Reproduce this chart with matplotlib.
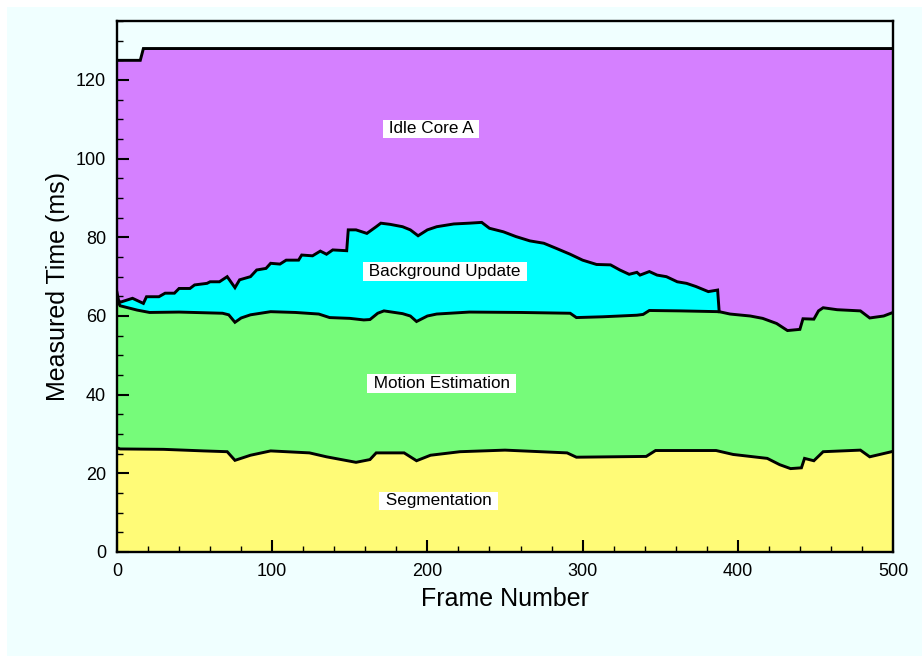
import matplotlib
matplotlib.use("Agg")
import matplotlib.pyplot as plt
from matplotlib.patches import Rectangle
from matplotlib.ticker import MultipleLocator

plt.rcParams['font.family'] = ['Liberation Sans', 'DejaVu Sans']

# ---- data: cumulative top of each stacked layer (ms) vs frame number ----
layer_names = ["Segmentation", "Motion Estimation", "Background Update", "Idle Core A"]
layer_colors = ["#fffb77", "#76fb7a", "#00ffff", "#d580ff"]

total_frames = [0, 15, 17, 500]
total_top = [125, 125, 128, 128]

bg_frames = [0, 1, 2, 10, 17, 19, 27, 31, 37, 40, 47, 50, 58, 60, 66, 71, 76, 79, 86, 90,
             96, 99, 105, 109, 117, 119, 126, 131, 135, 139, 148, 149, 154, 161, 167, 170,
             176, 184, 189, 194, 200, 206, 217, 227, 235, 240, 249, 257, 266, 275, 283,
             292, 300, 309, 318, 324, 330, 335, 337, 343, 348, 354, 361, 367, 373, 381,
             387, 388]
bg_top = [66.0, 64.0, 63.5, 64.5, 63.2, 64.9, 64.9, 65.8, 65.8, 67.0, 67.0, 67.9, 68.3, 68.7,
          68.7, 70.0, 67.2, 69.2, 70.0, 71.7, 72.1, 73.4, 73.2, 74.2, 74.2, 75.5, 75.3, 76.5,
          75.7, 76.8, 76.6, 81.9, 81.9, 81.0, 82.7, 83.6, 83.3, 82.7, 81.9, 80.4, 81.9, 82.7,
          83.4, 83.6, 83.8, 82.3, 81.4, 80.2, 79.1, 78.5, 77.2, 75.7, 74.2, 73.1, 73.0, 71.7,
          70.6, 71.1, 70.4, 71.3, 70.4, 70.0, 68.7, 68.3, 67.5, 66.2, 66.6, 61.1]

motion_frames = [0, 2, 8, 13, 21, 40, 68, 72, 76, 80, 86, 99, 115, 130, 137, 150, 159, 163,
                 168, 172, 184, 189, 193, 200, 206, 227, 260, 292, 296, 313, 335, 339, 343,
                 363, 388, 395, 408, 416, 425, 432, 440, 442, 449, 452, 455, 464, 479, 485,
                 494, 500]
motion_top = [64.0, 62.6, 62.0, 61.5, 60.9, 61.0, 60.7, 60.3, 58.4, 59.5, 60.3, 61.1, 60.9,
              60.5, 59.6, 59.4, 59.0, 59.1, 60.7, 61.3, 60.6, 60.0, 58.6, 60.0, 60.5, 61.0,
              60.9, 60.7, 59.6, 59.8, 60.2, 60.4, 61.4, 61.3, 61.1, 60.5, 60.0, 59.4, 58.1,
              56.3, 56.6, 59.3, 59.2, 61.3, 62.1, 61.6, 61.3, 59.5, 60.0, 60.9]

seg_frames = [0, 2, 30, 56, 71, 76, 86, 99, 124, 135, 154, 163, 167, 185, 193, 202, 221, 250,
              290, 296, 341, 347, 386, 397, 419, 427, 434, 441, 443, 449, 455, 479, 485, 498,
              500]
seg_top = [26.5, 26.2, 26.1, 25.7, 25.5, 23.3, 24.6, 25.7, 25.2, 24.2, 22.8, 23.5, 25.2, 25.2,
           23.2, 24.6, 25.5, 25.9, 25.2, 24.1, 24.3, 25.8, 25.8, 24.8, 23.8, 22.2, 21.2, 21.4,
           23.8, 23.2, 25.5, 25.9, 24.2, 25.4, 25.6]

label_frames = [207.2, 209.1, 211.3, 202.3]
label_values = [13.0, 42.8, 71.3, 107.6]

x_ticks = [0, 100, 200, 300, 400, 500]
y_ticks = [0, 20, 40, 60, 80, 100, 120]

# ---- figure ----
fig = plt.figure(figsize=(9.22, 6.56), dpi=100, facecolor="white")
fig.patches.append(Rectangle((7 / 922, 0), 1, (656 - 7) / 656, transform=fig.transFigure,
                             facecolor="#f0ffff", edgecolor="none", zorder=-10))
ax = fig.add_axes([117 / 922, (656 - 552) / 656, (893 - 117) / 922, (552 - 21) / 656])
ax.set_facecolor("#f0ffff")

series = [(seg_frames, seg_top), (motion_frames, motion_top),
          (bg_frames, bg_top), (total_frames, total_top)]

# painter's order: draw the top layer first, lower layers over it
for (fx, fy), col in reversed(list(zip(series, layer_colors))):
    ax.fill_between(fx, 0, fy, facecolor=col, edgecolor="none", zorder=1)
for fx, fy in series:
    ax.plot(fx, fy, color="black", lw=2.1, zorder=3, solid_joinstyle="miter")

for name, fx, fy in zip(layer_names, label_frames, label_values):
    ax.text(fx, fy, " " + name + " ", ha="center", va="center", fontsize=12.3, zorder=5,
            bbox=dict(boxstyle="square,pad=0.1", facecolor="white", edgecolor="none"))

ax.set_xlim(0, 500)
ax.set_ylim(0, 135)
ax.set_xticks(x_ticks)
ax.set_yticks(y_ticks)
ax.xaxis.set_minor_locator(MultipleLocator(20))
ax.yaxis.set_minor_locator(MultipleLocator(5))
ax.tick_params(which="major", direction="in", length=8.6, width=1.5, labelsize=13, pad=8,
               top=False, right=False)
ax.tick_params(which="minor", direction="in", length=4.3, width=1.0, top=False, right=False)
for sp in ax.spines.values():
    sp.set_linewidth(1.7)
    sp.set_zorder(6)

ax.set_xlabel("Frame Number", fontsize=18)
ax.set_ylabel("Measured Time (ms)", fontsize=18)
ax.xaxis.set_label_coords(0.5, -0.065)
ax.yaxis.set_label_coords(-0.061, 0.5)

fig.savefig("out.png", dpi=100, facecolor=fig.get_facecolor())
